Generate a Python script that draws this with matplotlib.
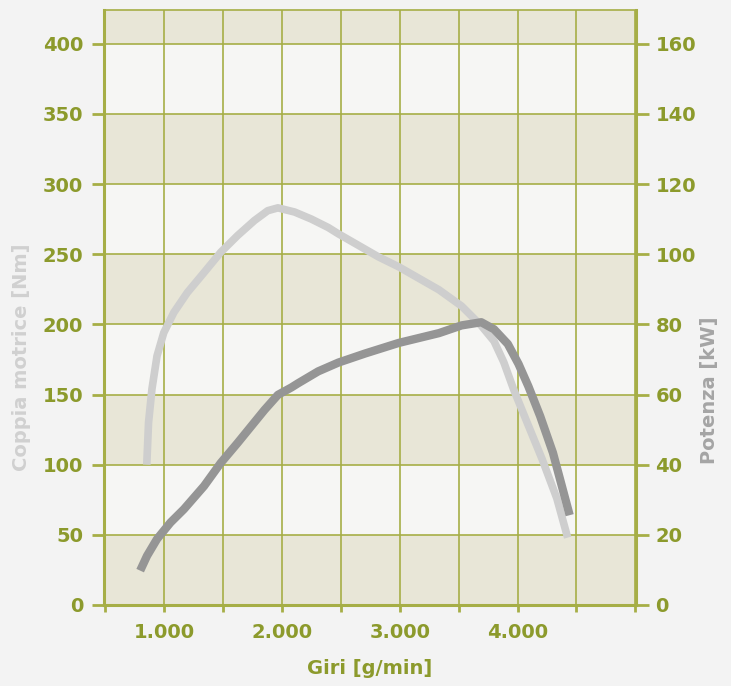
import numpy as np
import matplotlib.pyplot as plt
from matplotlib.ticker import FuncFormatter

# Coppia motrice [Nm] vs giri
torque_rpm = [853, 868, 897, 940, 997, 1083, 1197, 1339, 1481, 1624, 1767, 1880,
              1966, 2109, 2250, 2393, 2479, 2821, 2991, 3333, 3525, 3692, 3800,
              3883, 3967, 4083, 4208, 4333, 4425]
torque_nm = [100, 130, 154, 177.5, 194, 208.5, 222.6, 236.9, 251.4, 263.3, 274, 281,
             283, 280, 275, 269, 264.5, 248, 241, 224.6, 213, 199, 188,
             173, 153.5, 129.6, 104, 76, 48]

# Potenza [kW] vs giri
power_rpm = [797, 855, 940, 1054, 1168, 1339, 1481, 1624, 1738, 1852, 1966, 2080,
             2137, 2308, 2479, 2707, 2991, 3333, 3525, 3692, 3800, 3917, 4008,
             4092, 4192, 4300, 4442]
power_kw = [9.8, 14.0, 18.8, 23.5, 27.3, 33.9, 40.5, 46.2, 50.9, 55.6, 59.9, 62.0,
            63.2, 66.6, 69.1, 71.7, 74.7, 77.5, 79.7, 80.6, 78.6, 74.4, 68.7,
            62.3, 53.8, 43.4, 25.6]

x_ticks = [500, 1000, 1500, 2000, 2500, 3000, 3500, 4000, 4500, 5000]
x_labels = [1000, 2000, 3000, 4000]
nm_ticks = list(range(0, 401, 50))
kw_ticks = list(range(0, 161, 20))

olive = "#8c9a2c"
grid_c = "#a6ae46"
band_c = "#e8e6d7"
plain_c = "#f6f6f4"
bg = "#f3f3f3"

fig = plt.figure(figsize=(7.31, 6.86), dpi=100, facecolor=bg)
ax = fig.add_axes([104 / 731, 81 / 686, 532 / 731, 595 / 686])
ax.set_facecolor(plain_c)
ax.set_xlim(490, 5005)
ax.set_ylim(0, 424)

# alternating bands
for lo in [0, 100, 200, 300, 400]:
    ax.axhspan(lo, lo + 50, color=band_c, zorder=0, lw=0)

ax.set_xticks(x_ticks)
ax.xaxis.set_major_formatter(FuncFormatter(
    lambda v, p: f"{int(v):,}".replace(",", ".") if int(v) in x_labels else ""))
ax.set_yticks(nm_ticks)
ax.grid(True, color=grid_c, lw=1.2, zorder=1)
ax.set_axisbelow(True)

for s in ["left", "right", "bottom"]:
    ax.spines[s].set_color(grid_c)
    ax.spines[s].set_linewidth(2.2)
ax.spines["top"].set_color(grid_c)
ax.spines["top"].set_linewidth(1.2)

ax.tick_params(axis="y", colors=grid_c, length=9, width=2, pad=6,
               labelcolor=olive, labelsize=14)
ax.tick_params(axis="x", colors=grid_c, length=5, width=2, pad=8,
               labelcolor=olive, labelsize=14)
for lab in ax.get_xticklabels() + ax.get_yticklabels():
    lab.set_fontweight("bold")

ax.plot(torque_rpm, torque_nm, color="#cecece", lw=5.5,
        solid_capstyle="butt", solid_joinstyle="round", zorder=3)

ax2 = ax.twinx()
ax2.set_ylim(0, 424 / 2.5)
ax2.set_yticks(kw_ticks)
ax2.tick_params(axis="y", colors=grid_c, length=9, width=2, pad=5,
                labelcolor=olive, labelsize=14)
for lab in ax2.get_yticklabels():
    lab.set_fontweight("bold")
for s in ax2.spines.values():
    s.set_visible(False)
ax2.plot(power_rpm, power_kw, color="#959595", lw=6,
         solid_capstyle="butt", solid_joinstyle="round", zorder=4)

ax.set_xlabel("Giri [g/min]", color=olive, fontsize=14, fontweight="bold",
              labelpad=12)
fig.text(22 / 731, 1 - 357 / 686, "Coppia motrice [Nm]", rotation=90,
         color="#d0d0d0", fontsize=14, fontweight="bold",
         ha="center", va="center")
fig.text(710 / 731, 1 - 390 / 686, "Potenza [kW]", rotation=90,
         color="#a5a5a5", fontsize=14, fontweight="bold",
         ha="center", va="center")

fig.savefig("out.png", dpi=100, facecolor=bg)
